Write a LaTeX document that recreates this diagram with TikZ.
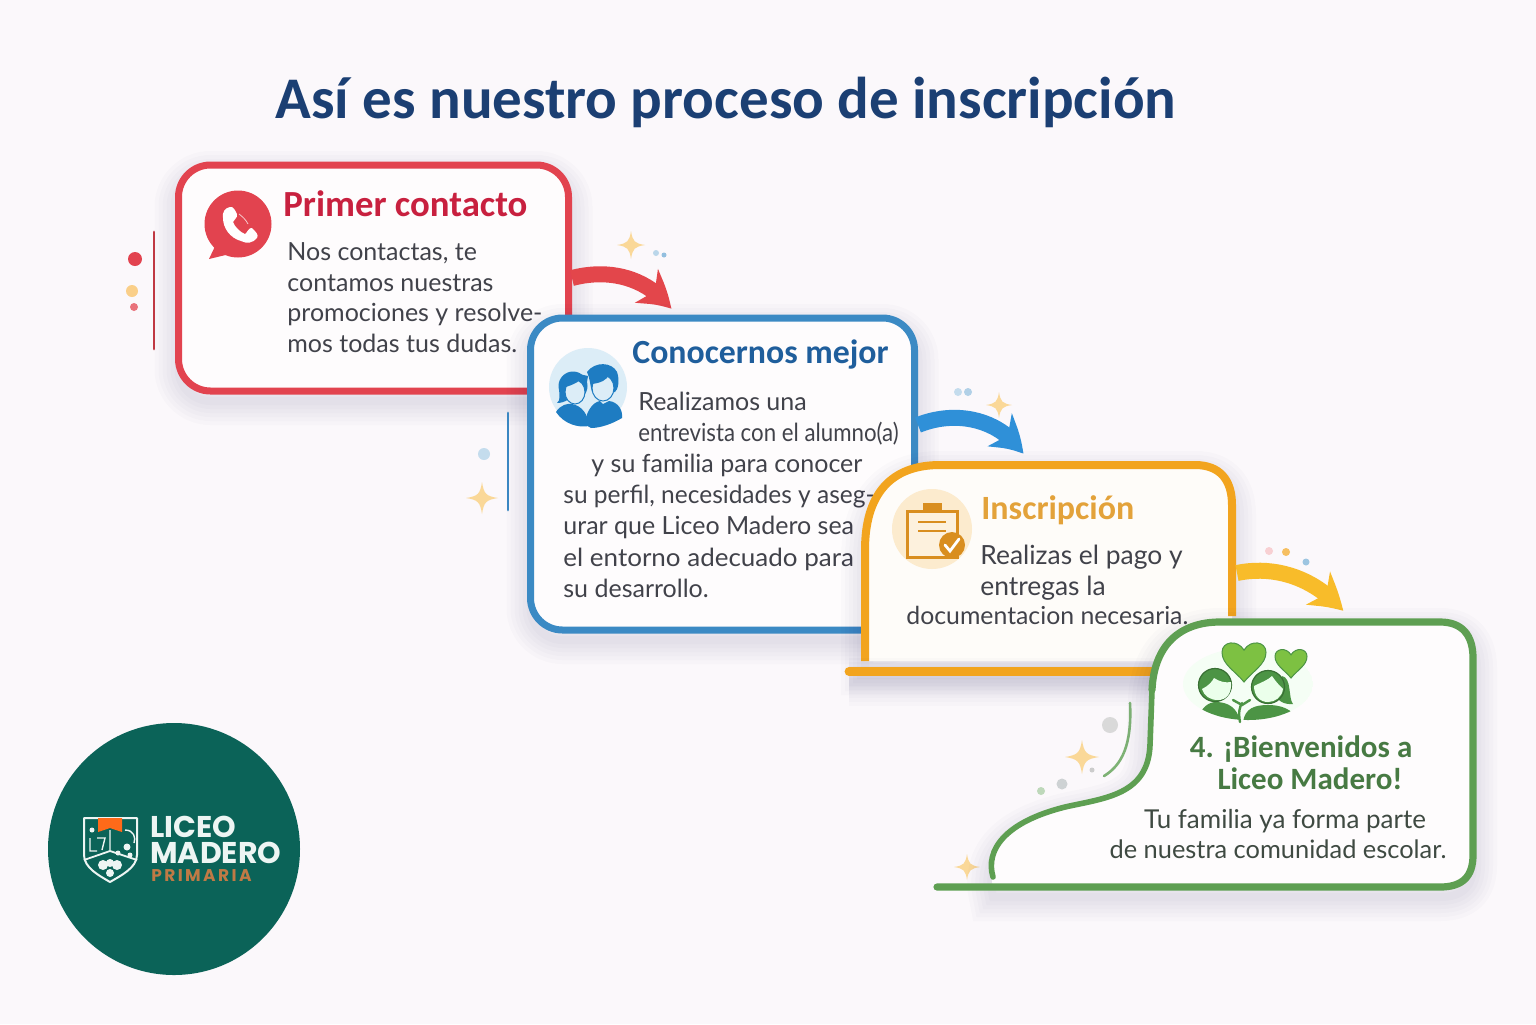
\documentclass[tikz,border=0pt]{standalone}
\usepackage{fontspec}
\setmainfont{Lato}
\newfontfamily\headfont{Carlito}
\newfontfamily\logofont{Poppins}
\newfontfamily\logowide[LetterSpace=14]{Poppins}
\usepackage{xcolor}
\usetikzlibrary{arrows.meta,bending}
\definecolor{pagebg}{HTML}{FBF8FB}
\definecolor{cardbg}{HTML}{FEFCFD}
\definecolor{creambg}{HTML}{FEFCF9}
\definecolor{navyink}{HTML}{1B3F73}
\definecolor{bodyink}{HTML}{41424A}
\definecolor{greenink}{HTML}{3F4A42}
\definecolor{cardred}{HTML}{E2434F}
\definecolor{titlered}{HTML}{C8203F}
\definecolor{cardblue}{HTML}{3B8AC4}
\definecolor{titleblue}{HTML}{1F5E9C}
\definecolor{iconblue}{HTML}{1E7CC2}
\definecolor{palelblue}{HTML}{DCEDF7}
\definecolor{arrowblue}{HTML}{2F90D8}
\definecolor{cardorange}{HTML}{F2A41E}
\definecolor{titleorange}{HTML}{E3A23A}
\definecolor{iconorange}{HTML}{D98E1F}
\definecolor{arrowyellow}{HTML}{F8BC2A}
\definecolor{cardgreen}{HTML}{5E9F52}
\definecolor{titlegreen}{HTML}{477A43}
\definecolor{icongreen}{HTML}{4C9445}
\definecolor{heartgreen}{HTML}{7DC142}
\definecolor{logogreen}{HTML}{0B6358}
\definecolor{logoink}{HTML}{EDF5F3}
\definecolor{logobrown}{HTML}{C07A45}
\definecolor{sparkcol}{HTML}{FAD898}
\tikzset{
dot/.style = {circle, fill, minimum size=#1,
              inner sep=0pt, outer sep=0pt},
dot/.default = 4pt, % diameter, 1pt is 2 px
softlayer/.style = {preaction={draw=black!70!blue, draw opacity=0.014, line width=#1,
              transform canvas={yshift=-5pt}}},
softshadow/.style = {softlayer=24pt, softlayer=20pt, softlayer=16pt, softlayer=12pt, softlayer=8pt, softlayer=4pt},
cardbox/.style = {rectangle, rounded corners=16pt, line width=3.5pt, fill=cardbg,
              softshadow, inner sep=0pt},
cardtitle/.style = {font=\headfont\bfseries\fontsize{#1}{20}\selectfont, anchor=base west, inner sep=0pt},
cardtext/.style = {font=\fontsize{12.5}{15.5}\selectfont, text=bodyink, align=left, anchor=west, inner sep=0pt},
welcometitle/.style = {font=\headfont\bfseries\fontsize{15.5}{17}\selectfont, text=titlegreen, anchor=base, inner sep=0pt},
welcometext/.style = {text=greenink, anchor=base, inner sep=0pt},
logotext/.style = {font=\logofont\bfseries\fontsize{15}{16}\selectfont, text=logoink, anchor=west, inner sep=0pt},
flowarrow/.style = {line width=8pt, -{Stealth[length=17pt,width=20pt,inset=5pt,bend]}},
sideline/.style = {line width=1.4pt, line cap=round},
sparkle/.pic = {
  \fill (0,-1) .. controls (.12,-.25) and (.25,-.12) .. (1,0)
    .. controls (.25,.12) and (.12,.25) .. (0,1)
    .. controls (-.12,.25) and (-.25,.12) .. (-1,0)
    .. controls (-.25,-.12) and (-.12,-.25) .. (0,-1) -- cycle;
},
heart/.pic = {
  \path[pic actions] (0,1) .. controls (-.4,.5) and (-1,.2) .. (-1,-.35)
    .. controls (-1,-.85) and (-.3,-.95) .. (0,-.45)
    .. controls (.3,-.95) and (1,-.85) .. (1,-.35)
    .. controls (1,.2) and (.4,.5) .. (0,1) -- cycle;
}
}

\begin{document}
\begin{tikzpicture}[x=0.5pt,y=-0.5pt]
\useasboundingbox (0,0) rectangle (1536,1024);
\fill[pagebg] (0,0) rectangle (1536,1024);

\node[font=\headfont\bfseries\fontsize{29.5}{32}\selectfont, text=navyink] (title) at (726,102) {Así es nuestro proceso de inscripción};

% card 1
\draw[cardred!85!black, sideline] (154,232) -- (154,349);
\node[dot=7pt, cardred] (r1) at (135,259) {};
\node[dot=6pt, sparkcol!90!orange] (r2) at (132,291) {};
\node[dot=4pt, cardred!75!white] (r3) at (134,307) {};
\node[cardbox, draw=cardred, minimum width=195pt, minimum height=113pt] (card1) at (373.5,278) {};
\fill[cardred] (238,224) circle (33.5);
\fill[cardred] (218,240) -- (209,259) -- (238,252) -- cycle;
\fill[white] (230,207) .. controls (225,208) and (222,212) .. (223,218) .. controls (223,228) and (230,238) .. (241,241)
  .. controls (247,244) and (253,243) .. (257,238) .. controls (259,235) and (256,232) .. (252,228)
  .. controls (249,227) and (247,233) .. (245,234) .. controls (241,233) and (234,226) .. (233,222)
  .. controls (234,219) and (238,218) .. (237,214) .. controls (235,210) and (233,206) .. (230,207) -- cycle;
\draw[white!70!cardred, line width=.4pt] (239,214) .. controls (243,217) and (246,220) .. (248,224);
\node[cardtitle=18.4, text=titlered] (head1) at (283,216) {Primer contacto};
\node[cardtext, font=\fontsize{12.5}{15.3}\selectfont] (text1) at (287,297.5) {Nos contactas, te\\contamos nuestras\\promociones y resolve-\\mos todas tus dudas.};

\pic[sparkcol, scale=14] at (631,245) {sparkle};
\node[dot=3pt, cardblue!35!white] (r4) at (656,253) {};
\node[dot=2.5pt, cardblue!55!white] (r5) at (664,255) {};
\coordinate (in2) at (671,309);
\draw[flowarrow, cardred!95!orange] (card1.east) .. controls (610,268) and (648,278) .. (in2);

% card 2
\draw[cardblue, sideline] (508,413) -- (508,510);
\node[dot=6pt, cardblue!30!white] (b1) at (484,454) {};
\pic[sparkcol, scale=16] at (482,498) {sparkle};
\node[cardbox, draw=cardblue, minimum width=192pt, minimum height=156pt] (card2) at (722.5,474) {};
\fill[palelblue] (588,387) circle (39);
\fill[iconblue] (586,425) .. controls (584,415) and (592,402) .. (600,401) -- (603,404) -- (609,401)
  .. controls (618,402) and (623,410) .. (622,418) .. controls (612,424) and (600,428) .. (591,428) -- cycle;
\fill[iconblue] (587,372) .. controls (595,361) and (612,362) .. (617,372) .. controls (620,380) and (618,390) .. (615,392)
  -- (592,392) .. controls (590,385) and (590,378) .. (587,372) -- cycle;
\draw[iconblue, fill=palelblue, line width=.5pt] (603,388) ellipse (11 and 13);
\fill[iconblue] (592,384) .. controls (600,383) and (608,380) .. (609,374) .. controls (612,378) and (613,382) .. (615,385)
  -- (617,372) .. controls (610,364) and (592,364) .. (592,384) -- cycle;
\fill[iconblue] (573,386) circle (14.5);
\fill[iconblue] (559,386) .. controls (559,395) and (561,400) .. (557,403) .. controls (565,403) and (572,398) .. (574,392) -- cycle;
\draw[iconblue, fill=palelblue, line width=.5pt] (575,392) ellipse (10 and 12);
\fill[iconblue] (562,388) .. controls (570,386) and (577,383) .. (580,380) -- (586,388) -- (588,376) -- (570,372) -- cycle;
\fill[iconblue] (556,412) .. controls (560,405) and (568,403) .. (572,404) .. controls (582,406) and (588,414) .. (589,426)
  .. controls (578,428) and (564,424) .. (556,412) -- cycle;
\node[cardtitle=16.9, text=titleblue] (head2) at (632,363) {Conocernos mejor};
\node[cardtext, font=\fontsize{12.5}{15.6}\selectfont] (text2) at (563,494.5) {\hspace*{37.5pt}Realizamos una\\\hspace*{37.5pt}\scalebox{.89}[1]{entrevista con el alumno(a)}\\\hspace*{14pt}y su familia para conocer\\\scalebox{.98}[1]{su perfil, necesidades y aseg-}\\urar que Liceo Madero sea\\\scalebox{1.04}[1]{el entorno adecuado para}\\su desarrollo.};

\node[dot=4pt, cardblue!30!white] (b2) at (958,392) {};
\node[dot=4pt, cardblue!40!white] (b3) at (968,392) {};
\pic[sparkcol, scale=13] at (999,405) {sparkle};
\coordinate (out2) at (918,425);
\coordinate (in3) at (1023,454);
\draw[flowarrow, arrowblue] (out2) .. controls (955,410) and (1000,418) .. (in3);

% card 3
\path[softshadow, fill=creambg] (865,661) -- (865,550) .. controls (865,495) and (890,465) .. (940,465) -- (1195,465)
  .. controls (1220,465) and (1232,480) .. (1232,505) -- (1232,661) -- cycle;
\draw[cardorange, line width=4pt] (865,661) -- (865,550) .. controls (865,495) and (890,465) .. (940,465) -- (1195,465)
  .. controls (1220,465) and (1232,480) .. (1232,505) -- (1232,616);
\draw[cardorange, line width=4.4pt, line cap=round, softshadow] (849,671.5) -- (1160,671.5);
\fill[cardorange!22!white] (932,529) circle (40);
\draw[iconorange, fill=cardorange!15!white, line width=1.5pt] (907,511) rectangle (957,557);
\fill[iconorange] (923,511) -- (923,503) -- (942,503) -- (942,511) -- cycle;
\draw[iconorange, line width=1pt] (918,522) -- (946,522) (918,531) -- (946,531);
\node[dot=13pt, iconorange] (check) at (952,545) {};
\draw[white, line width=1.4pt, line cap=round] (945,545) -- (950,551) -- (959,539);
\node[cardtitle=17, text=titleorange] (head3) at (981,519) {Inscripción};
\node[cardtext, font=\fontsize{13.2}{15.4}\selectfont] (text3) at (980,573) {Realizas el pago y\\entregas la};
\node[cardtext, font=\fontsize{12.4}{15}\selectfont] (text3b) at (906,615.5) {documentacion necesaria.};

\node[dot=4pt, cardred!25!white] (o1) at (1269,551) {};
\node[dot=4pt, cardorange!70!white] (o2) at (1286,552) {};
\node[dot=3.5pt, cardblue!50!white] (o3) at (1306,562) {};
\coordinate (out3) at (1237,573);
\coordinate (in4) at (1343,611);
\draw[flowarrow, arrowyellow] (out3) .. controls (1275,565) and (1315,578) .. (in4);

% card 4
\draw[cardgreen!80!white, line width=1.3pt, line cap=round] (1130,703) .. controls (1132,745) and (1122,765) .. (1104,776);
\node[dot=8pt, black!15] (g1) at (1110,725) {};
\pic[sparkcol, scale=17] at (1082,757) {sparkle};
\node[dot=2.5pt, black!20] (g2) at (1092,770) {};
\node[dot=5.5pt, cardblue!20!black!20] (g3) at (1062,784) {};
\node[dot=4pt, cardgreen!40!white] (g4) at (1041,791) {};
\pic[sparkcol, scale=13] at (967,867) {sparkle};
\path[softshadow, fill=cardbg] (993,887) .. controls (985,850) and (1005,822) .. (1065,807)
  .. controls (1105,798) and (1148,795) .. (1150,745) -- (1152,690) .. controls (1154,645) and (1180,622) .. (1220,622) -- (1440,622)
  .. controls (1462,622) and (1473,635) .. (1473,658) -- (1473,855) .. controls (1473,877) and (1462,887) .. (1440,887) -- cycle;
\draw[cardgreen, line width=2.8pt, line cap=round] (993,877) .. controls (985,850) and (1005,822) .. (1065,807)
  .. controls (1105,798) and (1148,795) .. (1150,745) -- (1152,690);
\draw[cardgreen, line width=3.6pt, line cap=round] (1152,690) .. controls (1154,645) and (1180,622) .. (1220,622) -- (1440,622)
  .. controls (1462,622) and (1473,635) .. (1473,658) -- (1473,855) .. controls (1473,877) and (1462,887) .. (1440,887) -- (937,887);
\begin{scope}
\clip (1248,684) ellipse (65 and 36);
\fill[black!10!green!4!white] (1248,684) ellipse (65 and 36);
\fill[icongreen] (1198,722) .. controls (1200,706) and (1210,702) .. (1216,702) .. controls (1228,702) and (1238,708) .. (1240,722) -- cycle;
\fill[icongreen] (1243,722) .. controls (1245,708) and (1255,705) .. (1268,705) .. controls (1280,705) and (1292,708) .. (1300,722) -- cycle;
\end{scope}
\draw[icongreen, line width=1.2pt, line cap=round] (1240,722) .. controls (1238,712) and (1240,706) .. (1242,703) (1233,700) -- (1242,705) -- (1250,700);
\fill[icongreen] (1282,676) .. controls (1292,678) and (1288,698) .. (1293,704) .. controls (1284,705) and (1276,700) .. (1276,694) -- cycle;
\draw[icongreen!75!black, fill=icongreen, line width=.6pt] (1215,685) circle (16.5);
\fill[white!92!green] (1202,689) .. controls (1208,686) and (1212,682) .. (1214,678) .. controls (1220,682) and (1226,683) .. (1231,682) .. controls (1232,694) and (1226,700) .. (1218,700) .. controls (1210,700) and (1204,696) .. (1202,689) -- cycle;
\draw[icongreen!75!black, fill=icongreen, line width=.6pt] (1268,687) circle (16.5);
\fill[white!92!green] (1254,686) .. controls (1262,682) and (1268,680) .. (1272,676) .. controls (1276,682) and (1280,686) .. (1283,689) .. controls (1282,697) and (1275,702) .. (1268,702) .. controls (1260,702) and (1254,696) .. (1254,686) -- cycle;
\pic[fill=heartgreen, draw=icongreen, line width=.5pt, scale=22] at (1244,660) {heart};
\pic[fill=heartgreen, draw=icongreen, line width=.5pt, scale=16] at (1291,662) {heart};
\node[welcometitle] (head4) at (1301,757) {4. ¡Bienvenidos a};
\node[welcometitle] (head4b) at (1310,789) {Liceo Madero!};
\node[welcometext, font=\fontsize{13}{15}\selectfont] (text4) at (1285,828) {Tu familia ya forma parte};
\node[welcometext, font=\fontsize{12.7}{15}\selectfont] (text4b) at (1278,858) {de nuestra comunidad escolar.};

% logo
\node[dot=126pt, logogreen] (logo) at (174,849) {};
\draw[logoink, line width=1pt, line join=round] (84,818) -- (137,818) -- (137,855) .. controls (137,868) and (120,876) .. (110,882)
  .. controls (100,876) and (84,868) .. (84,855) -- cycle;
\draw[logoink, line width=.9pt] (84,860) -- (110,851) -- (137,860);
\fill[orange!70!red!90!white] (98,818) -- (122,818) -- (122,832) -- (110,828) -- (98,832) -- cycle;
\draw[logoink, line width=.7pt] (90,838) -- (90,851) -- (97,851) (97,838) -- (105,838) -- (102,850) (110,830) -- (110,850) (125,830) .. controls (134,830) and (136,838) .. (134,843);
\fill[logoink] (92,830) circle (2.5) (127,847) circle (3.5) (118,853) circle (2.5) (130,855) circle (2.5);
\fill[logoink] (103,865) circle (5) (117,865) circle (5) (110,863) circle (4) (110,873) circle (4);
\node[logotext] (logo1) at (150,827) {LICEO};
\node[logotext] (logo2) at (150,853) {MADERO};
\node[font=\logowide\bfseries\fontsize{8.5}{9}\selectfont, text=logobrown, anchor=west, inner sep=0pt] (logo3) at (151,876) {PRIMARIA};
\end{tikzpicture}
\end{document}
